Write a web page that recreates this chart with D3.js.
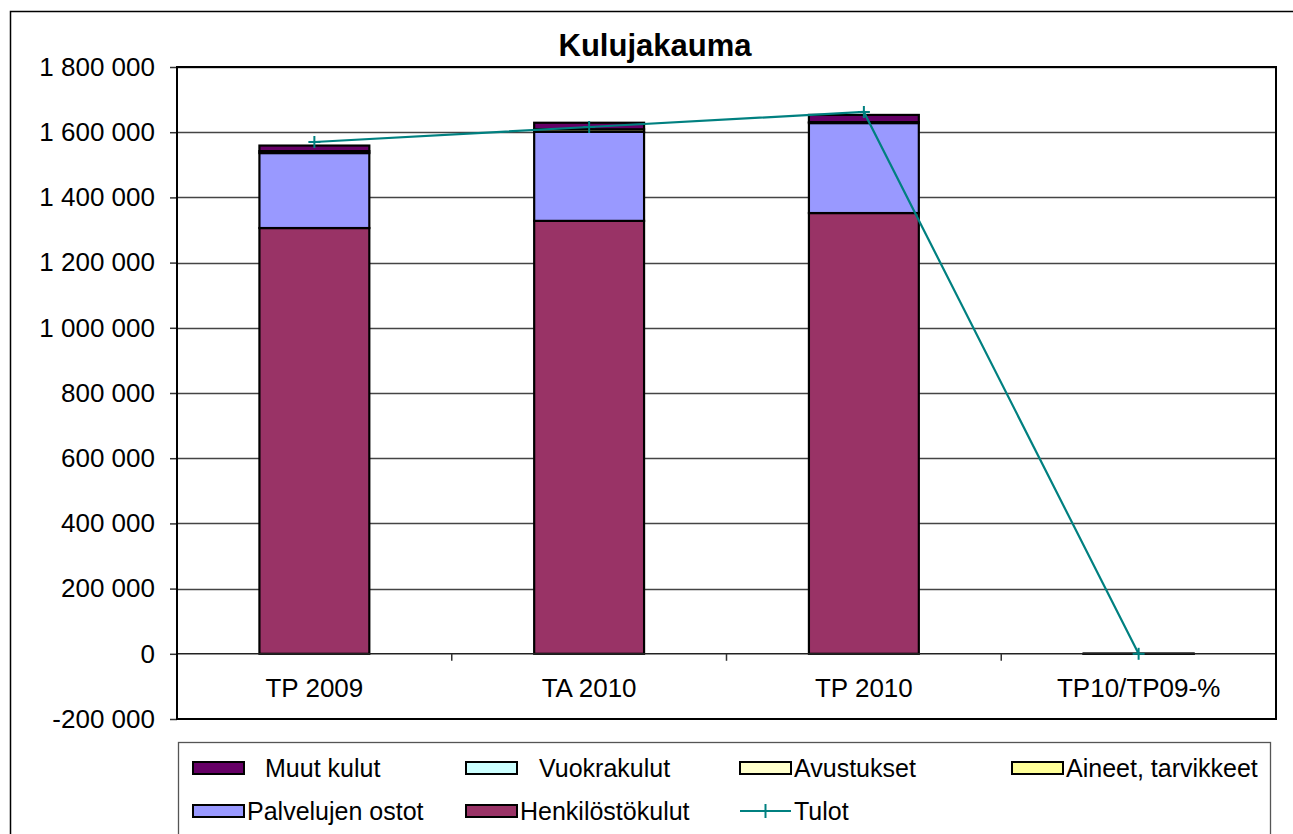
<!DOCTYPE html>
<html>
<head>
<meta charset="utf-8">
<script src="https://cdn.jsdelivr.net/npm/d3@7"></script>
<style>
  html, body { margin: 0; padding: 0; background: #fff; }
  svg { display: block; font-family: Arial, "Liberation Sans", sans-serif; }
</style>
</head>
<body>
<svg id="chart" width="1293" height="834"></svg>
<script>
// Categories and cost components (euros); last column is the change in percent
const categories = ["TP 2009", "TA 2010", "TP 2010", "TP10/TP09-%"];
const henkilostokulut   = [1306000, 1328000, 1352000, 3.5];
const palvelujenOstot   = [230000, 273000, 276000, 20];
const aineetTarvikkeet  = [6000, 8000, 3000, -40];
const avustukset        = [0, 0, 0, 0];
const vuokrakulut       = [0, 0, 0, 0];
const muutKulut         = [17000, 20000, 22000, 10];
const tulot             = [1570000, 1616000, 1662000, 5.9];
const yTicks = [-200000, 0, 200000, 400000, 600000, 800000, 1000000, 1200000, 1400000, 1600000, 1800000];

// Stack order bottom to top
const seriesDefs = [
  { key: "Henkilöstökulut", values: henkilostokulut, color: "#993366" },
  { key: "Palvelujen ostot", values: palvelujenOstot, color: "#9999FF" },
  { key: "Aineet, tarvikkeet", values: aineetTarvikkeet, color: "#FFFF99" },
  { key: "Avustukset", values: avustukset, color: "#FFFFCC" },
  { key: "Vuokrakulut", values: vuokrakulut, color: "#CCFFFF" },
  { key: "Muut kulut", values: muutKulut, color: "#660066" }
];

const svg = d3.select("#chart");
const plot = { left: 177, right: 1276, top: 67, bottom: 719 };

// Chart area frame
svg.append("rect").attr("x", 10.5).attr("y", 11.5).attr("width", 1300).attr("height", 840)
  .attr("fill", "#fff").attr("stroke", "#000").attr("stroke-width", 1.5);

const x = d3.scaleBand().domain(categories).range([plot.left, plot.right]).padding(0);
const y = d3.scaleLinear().domain([-200000, 1800000]).range([plot.bottom, plot.top]);
const barW = x.bandwidth() * 0.4;

// Gridlines
svg.append("g").selectAll("line").data(yTicks.filter(v => v > -200000 && v !== 0)).join("line")
  .attr("x1", plot.left).attr("x2", plot.right)
  .attr("y1", d => Math.round(y(d)) + 0.5).attr("y2", d => Math.round(y(d)) + 0.5)
  .attr("stroke", "#444").attr("stroke-width", 1.3);

// Y axis (space as thousands separator, ASCII hyphen for negatives)
const fmt = v => (v < 0 ? "-" : "") + d3.format(",")(Math.abs(v)).replace(/,/g, " ");
const yAxis = svg.append("g").attr("transform", `translate(${plot.left},0)`)
  .call(d3.axisLeft(y).tickValues(yTicks).tickFormat(fmt).tickSize(7).tickPadding(15));
yAxis.select(".domain").remove();
yAxis.selectAll(".tick line").attr("stroke", "#333").attr("stroke-width", 1.5);
yAxis.selectAll(".tick text").attr("font-size", 26).attr("fill", "#000")
  .attr("font-family", "Arial, 'Liberation Sans', sans-serif");

// Stacked bars
const rows = categories.map((c, i) => {
  const r = { cat: c };
  seriesDefs.forEach(s => r[s.key] = Math.max(0, s.values[i]));
  return r;
});
const stack = d3.stack().keys(seriesDefs.map(s => s.key))(rows);
const barsG = svg.append("g");
stack.forEach((layer, li) => {
  barsG.append("g").selectAll("rect").data(layer).join("rect")
    .attr("x", d => x(d.data.cat) + (x.bandwidth() - barW) / 2)
    .attr("width", barW)
    .attr("y", d => y(d[1]))
    .attr("height", d => Math.max(0, y(d[0]) - y(d[1])))
    .attr("fill", seriesDefs[li].color)
    .attr("stroke", "#000").attr("stroke-width", 2.2)
    .attr("display", d => (d[1] - d[0]) > 0 ? null : "none");
});

// Zero line and category ticks
svg.append("line").attr("x1", plot.left).attr("x2", plot.right)
  .attr("y1", y(0)).attr("y2", y(0)).attr("stroke", "#222").attr("stroke-width", 1.5);
svg.append("g").selectAll("line").data(d3.range(1, categories.length)).join("line")
  .attr("x1", i => plot.left + i * x.step()).attr("x2", i => plot.left + i * x.step())
  .attr("y1", y(0)).attr("y2", y(0) + 7).attr("stroke", "#333").attr("stroke-width", 1.5);
svg.append("g").selectAll("text").data(categories).join("text")
  .attr("x", d => x(d) + x.bandwidth() / 2).attr("y", y(0) + 43)
  .attr("text-anchor", "middle").attr("font-size", 26).attr("fill", "#000").text(d => d);

// Plot area border
svg.append("rect").attr("x", plot.left).attr("y", plot.top)
  .attr("width", plot.right - plot.left).attr("height", plot.bottom - plot.top)
  .attr("fill", "none").attr("stroke", "#000").attr("stroke-width", 2);

// Tulot line with cross markers
const cx = d => x(d) + x.bandwidth() / 2;
const linePts = categories.map((c, i) => [cx(c), y(tulot[i])]);
svg.append("path").attr("d", d3.line()(linePts)).attr("fill", "none")
  .attr("stroke", "#008080").attr("stroke-width", 2.2);
const marks = svg.append("g").selectAll("g").data(linePts).join("g")
  .attr("transform", d => `translate(${d[0]},${d[1]})`);
marks.append("line").attr("x1", -6).attr("x2", 6).attr("stroke", "#008080").attr("stroke-width", 2);
marks.append("line").attr("y1", -6).attr("y2", 6).attr("stroke", "#008080").attr("stroke-width", 2);

// Title
svg.append("text").attr("x", 655).attr("y", 56).attr("text-anchor", "middle")
  .attr("font-size", 31).attr("font-weight", "bold").attr("fill", "#000").text("Kulujakauma");

// Legend
svg.append("rect").attr("x", 178.5).attr("y", 742.5).attr("width", 1092).attr("height", 130)
  .attr("fill", "#fff").attr("stroke", "#555").attr("stroke-width", 1.3);
const legendItems = [
  { label: "Muut kulut", color: "#660066", col: 0, row: 0, gap: 21 },
  { label: "Vuokrakulut", color: "#CCFFFF", col: 1, row: 0, gap: 22 },
  { label: "Avustukset", color: "#FFFFCC", col: 2, row: 0, gap: 3 },
  { label: "Aineet, tarvikkeet", color: "#FFFF99", col: 3, row: 0, gap: 3 },
  { label: "Palvelujen ostot", color: "#9999FF", col: 0, row: 1, gap: 3 },
  { label: "Henkilöstökulut", color: "#993366", col: 1, row: 1, gap: 3 },
  { label: "Tulot", color: "#008080", col: 2, row: 1, gap: 3, line: true }
];
const colX = [193, 466, 740, 1012];
const rowY = [768, 811];
const swW = 51;
const lg = svg.append("g").selectAll("g").data(legendItems).join("g")
  .attr("transform", d => `translate(${colX[d.col]},${rowY[d.row]})`);
lg.filter(d => !d.line).append("rect").attr("x", 0).attr("y", -6).attr("width", swW).attr("height", 12)
  .attr("fill", d => d.color).attr("stroke", "#000").attr("stroke-width", 2);
const ll = lg.filter(d => d.line);
ll.append("line").attr("x1", 0).attr("x2", swW).attr("stroke", d => d.color).attr("stroke-width", 2);
ll.append("line").attr("x1", swW / 2).attr("x2", swW / 2).attr("y1", -7).attr("y2", 7)
  .attr("stroke", d => d.color).attr("stroke-width", 2);
lg.append("text").attr("x", d => swW + d.gap).attr("y", 9).attr("font-size", 25).attr("fill", "#000")
  .text(d => d.label);
</script>
</body>
</html>
